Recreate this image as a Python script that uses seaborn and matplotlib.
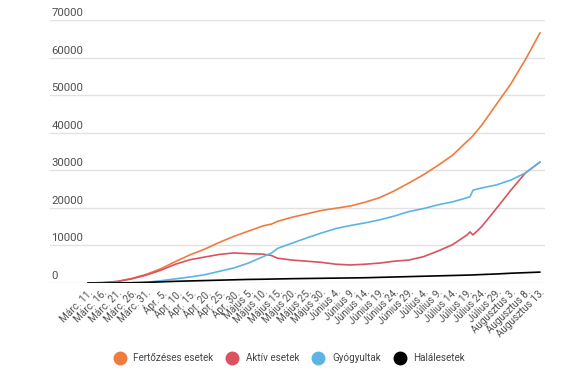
import pandas as pd
import numpy as np
import matplotlib.pyplot as plt
import seaborn as sns
from matplotlib.lines import Line2D
import matplotlib.transforms as mtransforms

# =========================
# Adatok
# =========================

dates = [
    "2020-03-11", "2020-03-16", "2020-03-21", "2020-03-26", "2020-03-31",
    "2020-04-05", "2020-04-10", "2020-04-15", "2020-04-20", "2020-04-25",
    "2020-04-30", "2020-05-05", "2020-05-10", "2020-05-13", "2020-05-15",
    "2020-05-20", "2020-05-25", "2020-05-30", "2020-06-04", "2020-06-09",
    "2020-06-14", "2020-06-19", "2020-06-24", "2020-06-29", "2020-07-04",
    "2020-07-09", "2020-07-14", "2020-07-19", "2020-07-20", "2020-07-21",
    "2020-07-24", "2020-07-29", "2020-08-03", "2020-08-08", "2020-08-13",
]

fertozeses = [0, 100, 400, 1200, 2300, 3800, 5700, 7500, 9000, 10800,
              12400, 13800, 15200, 15700, 16400, 17500, 18400, 19300, 19900, 20500,
              21500, 22700, 24500, 26600, 28800, 31300, 34000, 37700, 38400, 39200,
              42000, 47500, 53000, 59500, 66600]

aktiv = [0, 100, 400, 1100, 2100, 3400, 5000, 6200, 6900, 7600,
         8000, 7800, 7700, 7300, 6600, 6100, 5800, 5500, 5000, 4800,
         5000, 5300, 5800, 6100, 7000, 8500, 10200, 12800, 13600, 12800,
         15000, 19800, 24700, 29300, 32200]

gyogyultak = [0, 0, 50, 100, 200, 600, 1100, 1600, 2200, 3100,
              4000, 5300, 7000, 8000, 9200, 10600, 12000, 13300, 14500, 15300,
              16000, 16800, 17800, 19000, 19800, 20800, 21600, 22700, 22950, 24700,
              25300, 26100, 27400, 29300, 32200]

halal = [0, 5, 20, 50, 150, 300, 450, 550, 650, 750,
         850, 950, 1000, 1050, 1080, 1150, 1200, 1250, 1300, 1350,
         1400, 1500, 1600, 1700, 1800, 1900, 2000, 2100, 2120, 2150,
         2250, 2400, 2600, 2750, 2900]

tick_labels = [
    "Márc. 11.", "Márc. 16.", "Márc. 21.", "Márc. 26.", "Márc. 31.",
    "Ápr. 5.", "Ápr. 10.", "Ápr. 15.", "Ápr. 20.", "Ápr. 25.", "Ápr. 30.",
    "Május 5.", "Május 10.", "Május 15.", "Május 20.", "Május 25.", "Május 30.",
    "Június 4.", "Június 9.", "Június 14.", "Június 19.", "Június 24.", "Június 29.",
    "Július 4.", "Július 9.", "Július 14.", "Július 19.", "Július 24.", "Július 29.",
    "Augusztus 3.", "Augusztus 8.", "Augusztus 13.",
]

y_ticks = [0, 10000, 20000, 30000, 40000, 50000, 60000, 70000]

series_names = ["Fertőzéses esetek", "Aktív esetek", "Gyógyultak", "Halálesetek"]
colors = {
    "Fertőzéses esetek": "#F07B3F",
    "Aktív esetek": "#D9535F",
    "Gyógyultak": "#5DB4E3",
    "Halálesetek": "#000000",
}

# =========================
# Long-form tábla
# =========================

start = pd.Timestamp("2020-03-11")
day = (pd.to_datetime(dates) - start).days
df = pd.concat([
    pd.DataFrame({"nap": day, "ertek": vals, "sorozat": name})
    for name, vals in zip(series_names, [fertozeses, aktiv, gyogyultak, halal])
], ignore_index=True)

# =========================
# Ábra
# =========================

sns.set_theme(style="white")
plt.rcParams["font.family"] = ["Roboto", "DejaVu Sans"]

fig = plt.figure(figsize=(5.75, 3.87), dpi=100)
ax = fig.add_axes([50 / 575, 1 - 283 / 387, 495 / 575, 263 / 387])

sns.lineplot(data=df, x="nap", y="ertek", hue="sorozat", hue_order=series_names,
             palette=colors, linewidth=1.2, legend=False, ax=ax)

ax.set_xlim(-13, 155 + 1.7)
ax.set_ylim(0, 70000)
for s in ax.spines.values():
    s.set_visible(False)

# rácsvonalak
for v in y_ticks:
    ax.axhline(v, color="#e2e2e2", linewidth=1.0, zorder=0)

# y feliratok a vonalak fölött
ax.set_yticks([])
ytrans = mtransforms.blended_transform_factory(ax.transAxes, ax.transData)
ytrans = ytrans + mtransforms.ScaledTranslation(0, 2 / 100, fig.dpi_scale_trans)
for v in y_ticks:
    ax.text(0.003, v, str(v), transform=ytrans, ha="left", va="bottom",
            fontsize=8.2, color="#505050")

# x feliratok
ax.set_xticks(np.arange(0, 156, 5))
ax.set_xticklabels(tick_labels, rotation=45, ha="right", rotation_mode="anchor",
                   fontsize=7.2, color="#505050")
ax.tick_params(axis="x", length=0, pad=3)
ax.set_xlabel("")
ax.set_ylabel("")

# jelmagyarázat
handles = [Line2D([0], [0], marker="o", linestyle="", markersize=9,
                  markerfacecolor=colors[n], markeredgecolor=colors[n])
           for n in series_names]
fig.legend(handles, series_names, loc="center", bbox_to_anchor=(0.5, 1 - 358 / 387),
           ncol=4, frameon=False, fontsize=7.1, handletextpad=0.4,
           columnspacing=0.9, labelcolor="#444444")

fig.savefig("out.png", dpi=100)
